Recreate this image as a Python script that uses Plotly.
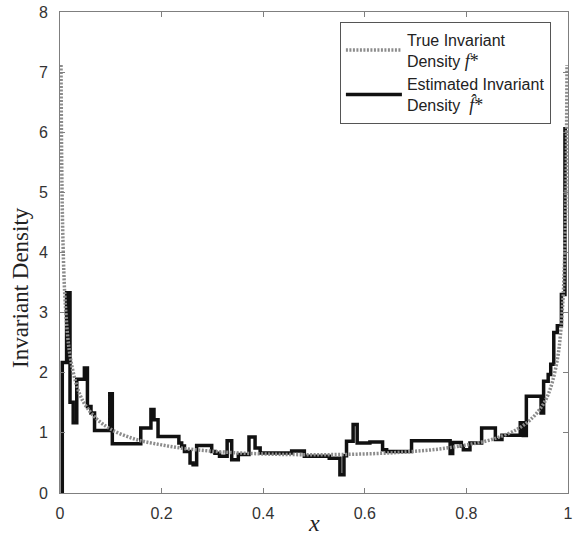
import plotly.graph_objects as go

# True invariant density
true_x = [0.002, 0.003, 0.004, 0.005, 0.0075, 0.01, 0.015, 0.02, 0.03, 0.04, 0.05, 0.07,
          0.1, 0.15, 0.2, 0.25, 0.3, 0.35, 0.4, 0.45, 0.5, 0.55, 0.6, 0.65, 0.7, 0.75,
          0.8, 0.85, 0.9, 0.93, 0.95, 0.96, 0.97, 0.98, 0.985, 0.99, 0.9925, 0.995,
          0.996, 0.997, 0.998]
true_y = [7.12, 5.82, 5.04, 4.51, 3.69, 3.20, 2.62, 2.27, 1.87, 1.62, 1.46, 1.25,
          1.06, 0.89, 0.80, 0.735, 0.695, 0.667, 0.650, 0.640, 0.637, 0.640, 0.650, 0.667, 0.695, 0.735,
          0.80, 0.89, 1.06, 1.25, 1.46, 1.62, 1.87, 2.27, 2.62, 3.20, 3.69, 4.51,
          5.04, 5.82, 7.12]

# Estimated invariant density (step function: left edge of each step, height)
est_x = [0.0045, 0.0045, 0.013, 0.0197, 0.026, 0.033, 0.048, 0.054, 0.061, 0.068, 0.098, 0.103,
         0.159, 0.179, 0.185, 0.193, 0.234, 0.2395, 0.245, 0.256, 0.262, 0.269, 0.2986, 0.305,
         0.314, 0.329, 0.338, 0.351, 0.372, 0.384, 0.394, 0.456, 0.481, 0.530, 0.551, 0.559,
         0.564, 0.577, 0.585, 0.610, 0.635, 0.643, 0.692, 0.768, 0.773, 0.790, 0.794, 0.807,
         0.830, 0.857, 0.870, 0.906, 0.912, 0.918, 0.947, 0.952, 0.961, 0.966, 0.972, 0.979,
         0.987, 0.994, 0.998]
est_y = [0, 2.17, 3.33, 1.51, 1.17, 1.89, 2.08, 1.44, 1.33, 1.04, 1.65, 0.82,
         1.08, 1.39, 1.22, 0.94, 0.83, 0.78, 0.69, 0.50, 0.47, 0.79, 0.69, 0.66,
         0.61, 0.87, 0.555, 0.64, 0.93, 0.75, 0.667, 0.70, 0.61, 0.58, 0.305, 0.62,
         0.86, 1.14, 0.83, 0.85, 0.72, 0.69, 0.87, 0.655, 0.84, 0.78, 0.72, 0.83,
         1.08, 0.89, 0.96, 1.17, 0.955, 1.61, 1.33, 1.86, 1.97, 2.14, 2.67, 2.78,
         3.30, 6.06, 6.06]

x_ticks = [0, 0.2, 0.4, 0.6, 0.8, 1]
x_tick_labels = ["0", "0.2", "0.4", "0.6", "0.8", "1"]
y_ticks = [0, 1, 2, 3, 4, 5, 6, 7, 8]

serif = "'Liberation Serif', 'Times New Roman', serif"
sans = "'Liberation Sans', Arial, sans-serif"

true_name = ("True Invariant<br>Density <span style=\"font-family:'Liberation Serif';font-size:18px\">"
             "<i>f</i>*</span>")
est_name = ("Estimated Invariant<br>Density  <span style=\"font-family:'Liberation Serif';font-size:18px\">"
            "<i>f\u0302</i>*</span>")

fig = go.Figure()
fig.add_trace(go.Scatter(
    x=est_x, y=est_y, mode="lines", line_shape="hv", name=est_name, legendrank=2,
    line=dict(color="#111111", width=3.5)))
fig.add_trace(go.Scatter(
    x=true_x, y=true_y, mode="lines", line_shape="spline", name=true_name, legendrank=1,
    line=dict(color="#8c8c8c", width=3.5, dash="2px,1.5px")))

axis_common = dict(
    showline=True, linecolor="#7f7f7f", linewidth=1, mirror="ticks",
    ticks="inside", ticklen=5, tickcolor="#7f7f7f", showgrid=False, zeroline=False,
    automargin=False,
    tickfont=dict(family=sans, size=16, color="#333333"),
)

fig.update_layout(
    width=578, height=540,
    margin=dict(l=60, r=10, t=12, b=47, autoexpand=False),
    plot_bgcolor="white", paper_bgcolor="white",
    xaxis=dict(range=[0, 1], tickvals=x_ticks, ticktext=x_tick_labels, ticklabelstandoff=6, **axis_common),
    yaxis=dict(range=[0, 8], tickvals=y_ticks, ticklabelstandoff=8, **axis_common),
    showlegend=True,
    legend=dict(x=0.551, y=0.98, xanchor="left", yanchor="top",
                bordercolor="#555555", borderwidth=1, bgcolor="white",
                font=dict(family=sans, size=16, color="#222222"),
                tracegroupgap=0, itemwidth=56),
    annotations=[
        dict(text="Invariant Density", xref="paper", yref="paper", x=-0.079, y=0.428,
             showarrow=False, textangle=-90, xanchor="center", yanchor="middle",
             font=dict(family=serif, size=23, color="#222222")),
        dict(text="<i>x</i>", xref="paper", yref="paper", x=0.5, y=-0.063,
             showarrow=False, xanchor="center", yanchor="middle",
             font=dict(family=serif, size=24, color="#222222")),
    ],
)

fig.write_html("out.html")
